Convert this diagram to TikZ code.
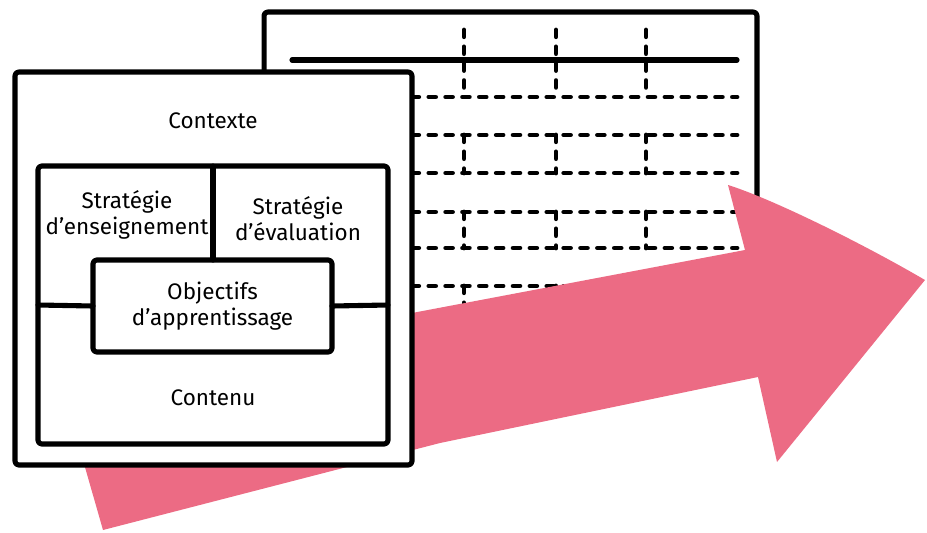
\documentclass[tikz,border=0pt]{standalone}
\usepackage{fontspec}
\setmainfont{Fira Sans}
\definecolor{arrowpink}{RGB}{236,107,132}
\begin{document}
\begin{tikzpicture}[x=0.02cm,y=-0.02cm,
  thick line/.style={line width=2.9pt,line join=round,line cap=round,rounded corners=2pt,outer sep=0pt},
  sheet/.style={thick line,draw=black,fill=white},
  grid line/.style={line width=2.8pt,line cap=round,dash pattern=on 3.8pt off 5.8pt},
  label/.style={font=\fontsize{12.8}{14.7}\selectfont,align=center,inner sep=0pt}]
\useasboundingbox (0,0) rectangle (927,532);
% table behind
\node[sheet,minimum width=9.86cm,minimum height=6.56cm] (table) at (510.5,176) {};
\coordinate (H1) at (292,60);
\coordinate (H2) at (737,60);
\draw[thick line] (H1) -- (H2);
\foreach \y in {97,135,173,212,248,286}
  \draw[grid line] (412,\y) -- (737,\y);
\foreach \x in {464,556,646}{
  \draw[grid line] (\x,30) -- (\x,97);
  \draw[grid line] (\x,135) -- (\x,173);
  \draw[grid line] (\x,212) -- (\x,248);
  \draw[grid line] (\x,286) -- (\x,340);
}
% arrow
\fill[arrowpink] (60,380) -- (412,313) -- (745,250) -- (728,185)
  .. controls (770,198) and (860,242) .. (925,280)
  -- (777,462) -- (758,377) -- (440,443) -- (103,530) -- cycle;
% front sheet
\node[sheet,minimum width=7.94cm,minimum height=7.86cm] (front) at (213.5,268.5) {};
\node[thick line,draw,minimum width=7cm,minimum height=5.56cm] (inner) at (213,305) {};
\node[sheet,label,minimum width=4.78cm,minimum height=1.84cm] (obj) at (212.5,306) {Objectifs\\d’apprentissage};
\draw[thick line] (inner.north) -- (inner.north |- obj.north);
\draw[thick line] (inner.west) -- (obj.west);
\draw[thick line] (obj.east) -- (inner.east);
\node[label] (ctx) at (213,121) {Contexte};
\node[label] (ens) at (127,215) {Stratégie\\d’enseignement};
\node[label] (eval) at (298,219) {Stratégie\\d’évaluation};
\node[label] (cont) at (213,398) {Contenu};
\end{tikzpicture}
\end{document}
